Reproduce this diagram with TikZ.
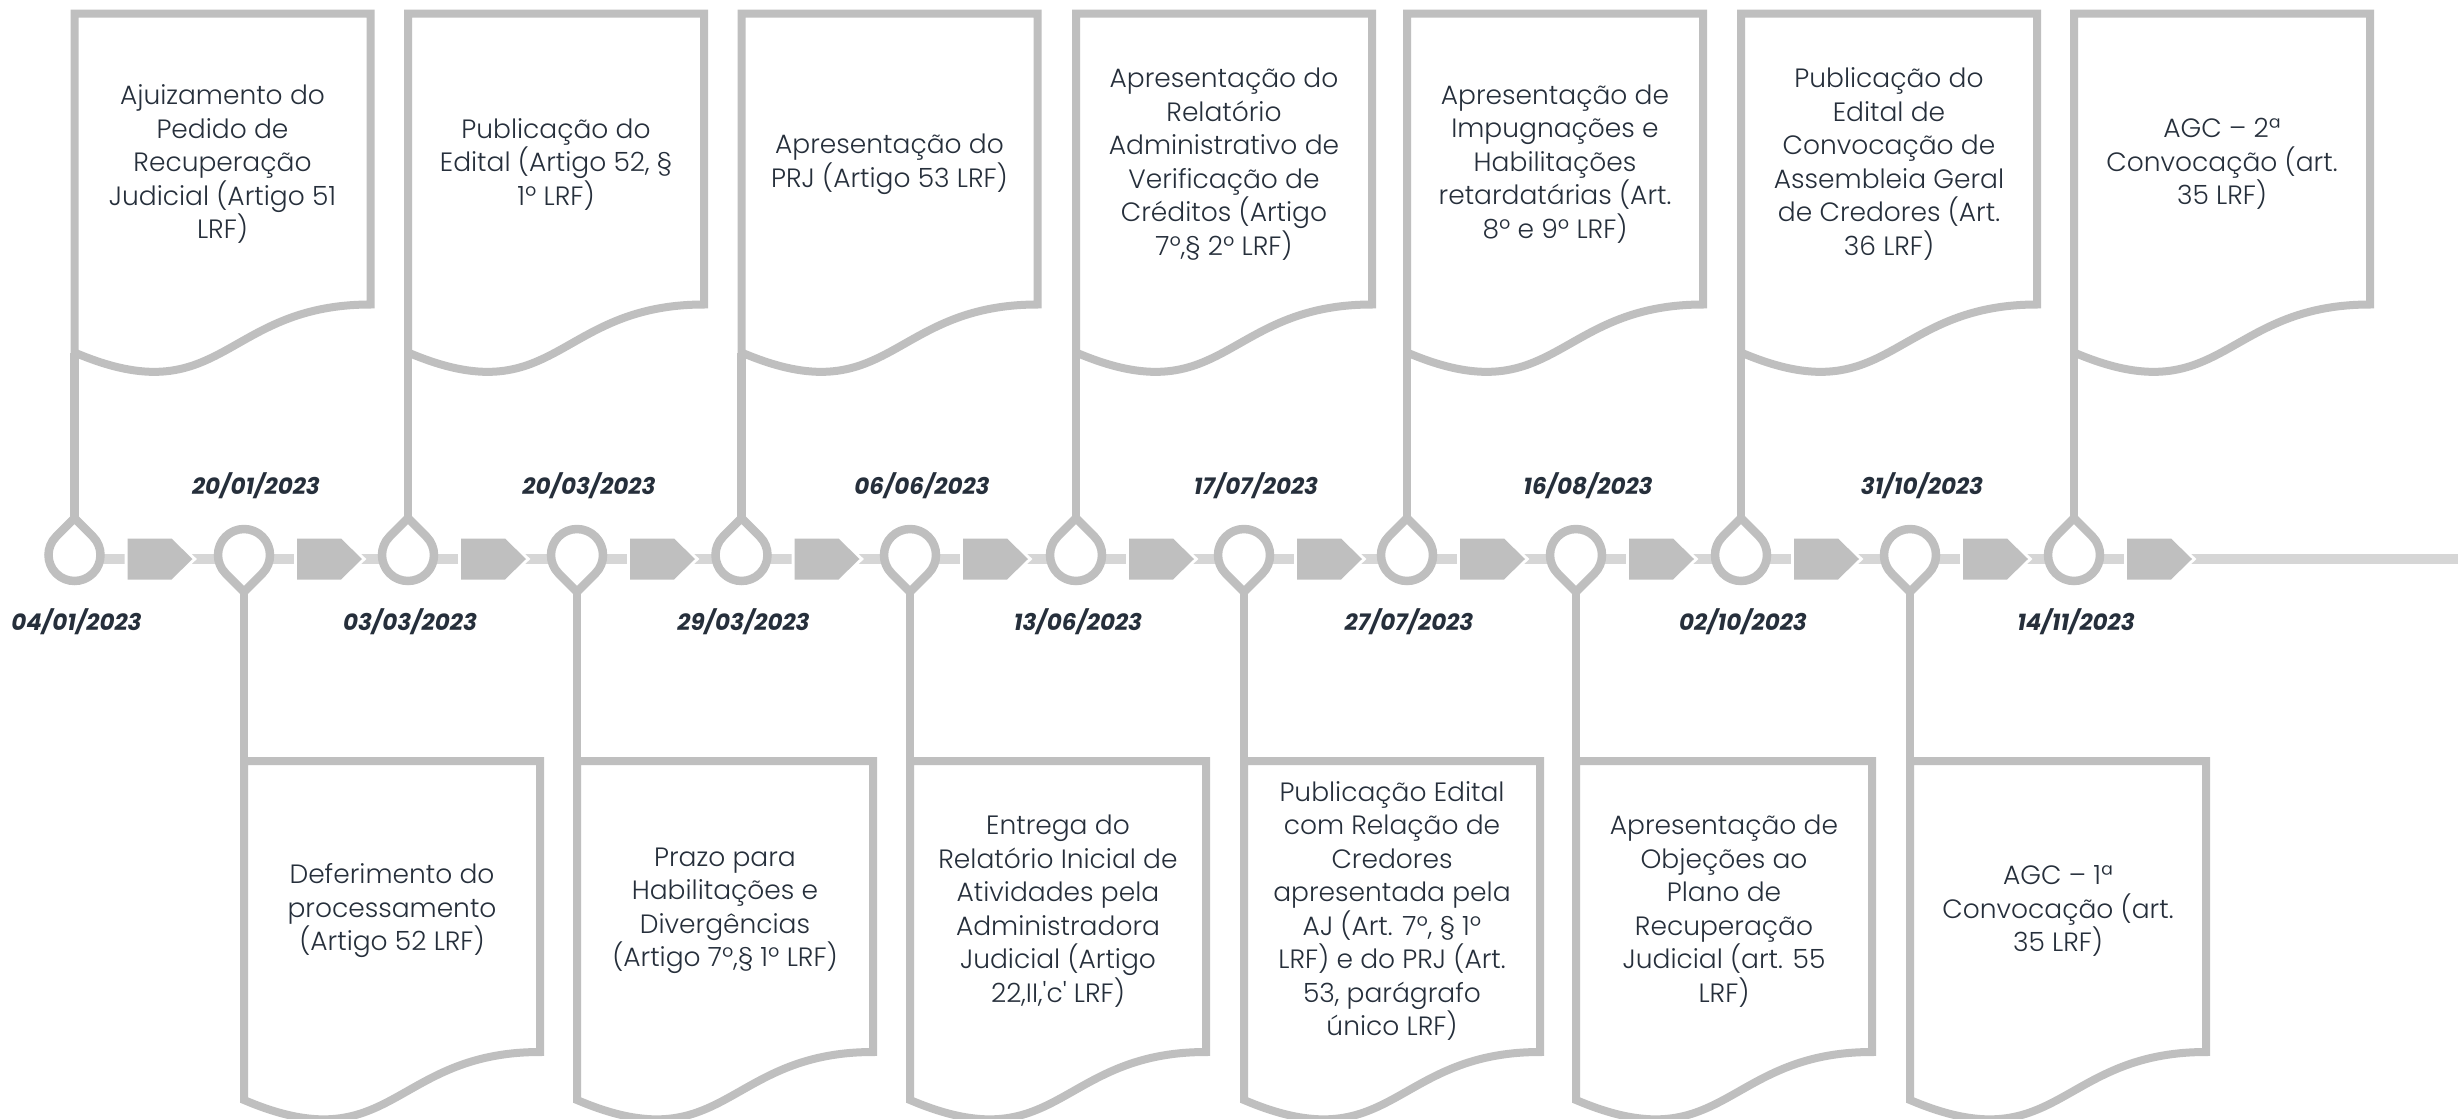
\documentclass[tikz,border=0pt]{standalone}
\usepackage{fontspec}
\setmainfont{Poppins}[UprightFont={* Light}, BoldItalicFont={* Bold Italic}]
\definecolor{shapegray}{HTML}{BFBFBF}
\definecolor{linegray}{HTML}{D6D6D6}
\definecolor{txt}{HTML}{262F3B}
\begin{document}
\begin{tikzpicture}[x=0.5pt,y=-0.5pt,
  boxline/.style={draw=shapegray, line width=4pt, fill=white, line join=miter},
  conn/.style={draw=shapegray, line width=4.25pt},
  pinshape/.style={draw=shapegray, line width=4.25pt, fill=white, line join=miter},
  boxtext/.style={text=txt, align=center, font=\fontsize{13.25}{16.75}\selectfont, inner sep=0pt},
  datetext/.style={text=txt, font=\fontsize{11.5}{13}\selectfont\bfseries\itshape, inner sep=0pt},
  arrowout/.style={draw=white, line width=3pt, line join=miter},
  arrowfill/.style={fill=shapegray}
]
\useasboundingbox (0,0) rectangle (2458,1119);

% main timeline
\coordinate (linestart) at (74.5,559);
\coordinate (lineend) at (2458,559);
\draw[linegray, line width=5pt] (linestart) -- (lineend);

% arrow markers
\foreach \p in {74.5,244,408,577,741.5,910,1076,1244,1407,1576,1741,1910,2074} {
  \draw[arrowout] (\p+53,538.5) -- (\p+97,538.5) -- (\p+118,559) -- (\p+97,579.5) -- (\p+53,579.5) -- cycle;
  \fill[arrowfill] (\p+53,538.5) -- (\p+97,538.5) -- (\p+118,559) -- (\p+97,579.5) -- (\p+53,579.5) -- cycle;
}

% upper boxes (pins pointing up, dates below the line)
\foreach \i/\p/\d/\txt in {
  0/74.5/04\slash 01\slash 2023/{Ajuizamento do\\Pedido de\\Recuperação\\Judicial (Artigo 51\\LRF)},
  2/408/03\slash 03\slash 2023/{Publicação do\\Edital (Artigo 52, §\\1º LRF)},
  4/741.5/29\slash 03\slash 2023/{Apresentação do\\PRJ (Artigo 53 LRF)},
  6/1076/13\slash 06\slash 2023/{Apresentação do\\Relatório\\Administrativo de\\Verificação de\\Créditos (Artigo\\7º,§ 2º LRF)},
  8/1407/27\slash 07\slash 2023/{Apresentação de\\Impugnações e\\Habilitações\\retardatárias (Art.\\8º e 9º LRF)},
  10/1741/02\slash 10\slash 2023/{Publicação do\\Edital de\\Convocação de\\Assembleia Geral\\de Credores (Art.\\36 LRF)},
  12/2074/14\slash 11\slash 2023/{AGC – 2ª\\Convocação (art.\\35 LRF)}} {
  \draw[boxline] (\p,13.5) -- (\p+296,13.5) -- (\p+296,304.5)
     .. controls (\p+148,304.5) and (\p+148,415.5) .. (\p,352.5) -- cycle;
  \coordinate (boxfoot\i) at (\p,352.5);
  \node[boxtext] (text\i) at (\p+148,164) {\txt};
  \coordinate (tip\i) at (\p,518.2);
  \draw[conn] (boxfoot\i) -- (tip\i);
  \draw[pinshape] (tip\i) -- (\p+18.38,536.6) arc[start angle=315, end angle=585, radius=26] -- cycle;
  \node[datetext] (date\i) at (\p+2,622) {\d};
}

% lower boxes (pins pointing down, dates above the line)
\foreach \i/\p/\d/\txt in {
  1/244/20\slash 01\slash 2023/{Deferimento do\\processamento\\(Artigo 52 LRF)},
  3/577/20\slash 03\slash 2023/{Prazo para\\Habilitações e\\Divergências\\(Artigo 7º,§ 1º LRF)},
  5/910/06\slash 06\slash 2023/{Entrega do\\Relatório Inicial de\\Atividades pela\\Administradora\\Judicial (Artigo\\22,II,\textquotesingle c\textquotesingle\ LRF)},
  7/1244/17\slash 07\slash 2023/{Publicação Edital\\com Relação de\\Credores\\apresentada pela\\AJ (Art. 7º, § 1º\\LRF) e do PRJ (Art.\\53, parágrafo\\único LRF)},
  9/1576/16\slash 08\slash 2023/{Apresentação de\\Objeções ao\\Plano de\\Recuperação\\Judicial (art. 55\\LRF)},
  11/1910/31\slash 10\slash 2023/{AGC – 1ª\\Convocação (art.\\35 LRF)}} {
  \draw[boxline] (\p,761) -- (\p+296,761) -- (\p+296,1052)
     .. controls (\p+148,1052) and (\p+148,1163) .. (\p,1100) -- cycle;
  \coordinate (boxtop\i) at (\p,761);
  \node[boxtext] (text\i) at (\p+148,911) {\txt};
  \coordinate (tip\i) at (\p,591.8);
  \draw[conn] (tip\i) -- (boxtop\i);
  \draw[pinshape] (tip\i) -- (\p-18.38,573.4) arc[start angle=135, end angle=405, radius=26] -- cycle;
  \node[datetext] (date\i) at (\p+12,486) {\d};
}
\end{tikzpicture}
\end{document}
